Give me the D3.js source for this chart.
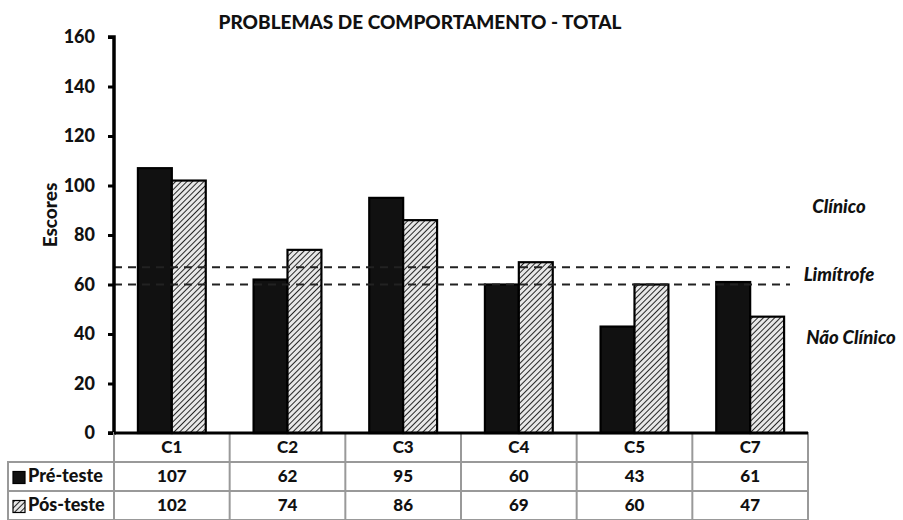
<!DOCTYPE html>
<html>
<head>
<meta charset="utf-8">
<script src="https://cdn.jsdelivr.net/npm/d3@7"></script>
<style>
  html, body { margin: 0; padding: 0; background: #fff; }
  svg { display: block; }
  text { font-family: Lato, "Open Sans", sans-serif; font-weight: 900; fill: #111; }
</style>
</head>
<body>
<svg id="chart" width="903" height="520"></svg>
<script>
// Scores per participant, before and after the intervention
const categories = ["C1", "C2", "C3", "C4", "C5", "C7"];
const seriesNames = ["Pré-teste", "Pós-teste"];
const preTest = [107, 62, 95, 60, 43, 61];
const postTest = [102, 74, 86, 69, 60, 47];
const yTicks = [0, 20, 40, 60, 80, 100, 120, 140, 160];
// Cut-off scores separating the clinical ranges
const thresholds = [67, 60];
const rangeLabels = [
  { text: "Clínico", value: 91, dx: 0 },
  { text: "Limítrofe", value: 63.5, dx: 0 },
  { text: "Não Clínico", value: 38, dx: 12 }
];

const svg = d3.select("#chart");
const margin = { left: 114, right: 95, top: 37 };
const plotBottom = 433;
const plotRight = 903 - margin.right;

const x = d3.scaleBand().domain(categories).range([margin.left, plotRight]).paddingInner(0).paddingOuter(0);
const inner = d3.scaleBand().domain(seriesNames).range([0, x.bandwidth()]).paddingInner(0).paddingOuter(0.705);
const y = d3.scaleLinear().domain([0, 160]).range([plotBottom, margin.top]);

// Hatch pattern for the post-test bars
const defs = svg.append("defs");
const pat = defs.append("pattern")
  .attr("id", "hatch")
  .attr("patternUnits", "userSpaceOnUse")
  .attr("width", 4).attr("height", 4)
  .attr("patternTransform", "rotate(45)");
pat.append("rect").attr("width", 4).attr("height", 4).attr("fill", "#e8e8e8");
pat.append("line").attr("x1", 0).attr("y1", 0).attr("x2", 0).attr("y2", 4)
  .attr("stroke", "#111").attr("stroke-width", 1.8);

// Title
svg.append("text")
  .attr("x", 420).attr("y", 29)
  .attr("text-anchor", "middle")
  .attr("font-size", 19)
  .text("PROBLEMAS DE COMPORTAMENTO - TOTAL");

// Bars
const seriesValues = [preTest, postTest];
const fills = ["#111", "url(#hatch)"];
seriesNames.forEach((name, si) => {
  svg.append("g").selectAll("rect")
    .data(categories.map((c, i) => ({ c, v: seriesValues[si][i] })))
    .join("rect")
    .attr("x", d => x(d.c) + inner(name))
    .attr("y", d => y(d.v))
    .attr("width", inner.bandwidth())
    .attr("height", d => y(0) - y(d.v))
    .attr("fill", fills[si])
    .attr("stroke", "#000")
    .attr("stroke-width", 2.2);
});

// Threshold lines
svg.append("g").selectAll("line")
  .data(thresholds)
  .join("line")
  .attr("x1", margin.left).attr("x2", 790)
  .attr("y1", d => y(d)).attr("y2", d => y(d))
  .attr("stroke", "#222")
  .attr("stroke-width", 2)
  .attr("stroke-dasharray", "8,6");

// Range labels
svg.append("g").selectAll("text")
  .data(rangeLabels)
  .join("text")
  .attr("x", d => 839 + d.dx).attr("y", d => y(d.value))
  .attr("text-anchor", "middle")
  .attr("dominant-baseline", "middle")
  .attr("font-size", 18.5)
  .attr("font-style", "italic")
  .text(d => d.text);

// Y axis
const yAxis = d3.axisLeft(y).tickValues(yTicks).tickSize(6).tickPadding(13);
const gy = svg.append("g").attr("transform", `translate(${margin.left},0)`).call(yAxis);
gy.select(".domain").attr("stroke", "#000").attr("stroke-width", 3.5).attr("d", `M-6,${y(160)}H0V${y(0)}H-6`);
gy.selectAll(".tick line").attr("stroke", "#000").attr("stroke-width", 3);
gy.selectAll(".tick text").attr("font-size", 18).attr("font-family", "Lato, sans-serif").attr("font-weight", 900).attr("fill", "#111");

// Y axis title
svg.append("text")
  .attr("transform", `translate(57,215) rotate(-90)`)
  .attr("text-anchor", "middle")
  .attr("font-size", 19)
  .text("Escores");

// Data table below the plot
const rowH = 29;
const tableTop = plotBottom;
const tableLeft = 8;
const grid = svg.append("g").attr("stroke", "#999").attr("stroke-width", 2).attr("fill", "none");
// header row
grid.append("rect").attr("x", margin.left).attr("y", tableTop).attr("width", plotRight - margin.left).attr("height", rowH);
// data rows
seriesNames.forEach((n, i) => {
  grid.append("rect").attr("x", tableLeft).attr("y", tableTop + rowH * (i + 1))
    .attr("width", plotRight - tableLeft).attr("height", rowH);
});
categories.forEach(c => {
  grid.append("line").attr("x1", x(c)).attr("x2", x(c)).attr("y1", tableTop).attr("y2", tableTop + rowH * 3);
});

// Bottom axis line over the table top
svg.append("line").attr("x1", margin.left).attr("x2", plotRight).attr("y1", plotBottom).attr("y2", plotBottom)
  .attr("stroke", "#000").attr("stroke-width", 3);

// header labels
svg.append("g").selectAll("text")
  .data(categories)
  .join("text")
  .attr("x", d => x(d) + x.bandwidth() / 2)
  .attr("y", tableTop + rowH / 2 + 1)
  .attr("text-anchor", "middle")
  .attr("dominant-baseline", "middle")
  .attr("font-size", 17)
  .text(d => d);

// value rows with legend keys
seriesNames.forEach((name, si) => {
  const cy = tableTop + rowH * (si + 1) + rowH / 2 + 1;
  svg.append("rect")
    .attr("x", 13).attr("y", cy - 6).attr("width", 12).attr("height", 12)
    .attr("fill", fills[si]).attr("stroke", "#000").attr("stroke-width", 1.2);
  svg.append("text")
    .attr("x", 28).attr("y", cy)
    .attr("dominant-baseline", "middle")
    .attr("font-size", 18)
    .text(name);
  svg.append("g").selectAll("text")
    .data(categories.map((c, i) => ({ c, v: seriesValues[si][i] })))
    .join("text")
    .attr("x", d => x(d.c) + x.bandwidth() / 2)
    .attr("y", cy)
    .attr("text-anchor", "middle")
    .attr("dominant-baseline", "middle")
    .attr("font-size", 17)
    .text(d => d.v);
});
</script>
</body>
</html>
